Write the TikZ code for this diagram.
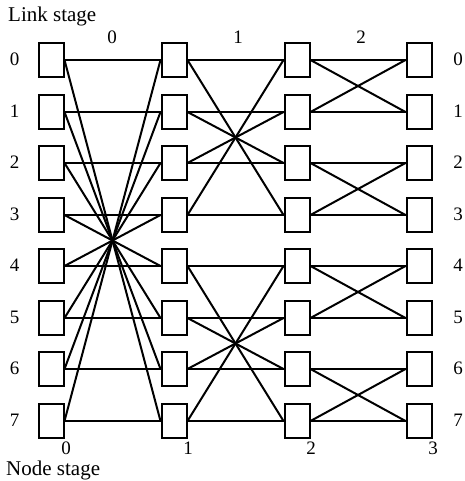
\documentclass[tikz,border=0pt]{standalone}
\usepackage{fontspec}
\setmainfont{Liberation Serif}
\begin{document}
\begin{tikzpicture}[x=1pt,y=-1pt,
  box/.style={draw,line width=2pt,minimum width=25pt,minimum height=34pt,inner sep=0pt},
  link/.style={line width=2pt},
  num/.style={font=\fontsize{19}{22}\selectfont,inner sep=0pt},
  lbl/.style={font=\fontsize{21}{24}\selectfont,inner sep=0pt}]
\useasboundingbox (0,0) rectangle (464,481);
% boxes
\foreach \c/\x in {0/51,1/174,2/297,3/419}{
  \foreach \r/\y in {0/60,1/112,2/163,3/215,4/266,5/318,6/369,7/421}{
    \node[box] (n\c\r) at (\x,\y) {};
  }
}
% stage 0 links: straight and reversal
\foreach \r in {0,...,7}{
  \pgfmathtruncatemacro\s{7-\r}
  \draw[link] (n0\r.east) -- (n1\r.west);
  \draw[link] (n0\r.east) -- (n1\s.west);
}
% stage 1 links: straight and reversal within groups of 4
\foreach \r in {0,...,7}{
  \pgfmathtruncatemacro\g{4*floor(\r/4)}
  \pgfmathtruncatemacro\s{2*\g+3-\r}
  \draw[link] (n1\r.east) -- (n2\r.west);
  \draw[link] (n1\r.east) -- (n2\s.west);
}
% stage 2 links: straight and swap within pairs
\foreach \r in {0,...,7}{
  \pgfmathtruncatemacro\s{\r+1-2*mod(\r,2)}
  \draw[link] (n2\r.east) -- (n3\r.west);
  \draw[link] (n2\r.east) -- (n3\s.west);
}
% row numbers
\foreach \r/\y in {0/60,1/112,2/163,3/215,4/266,5/318,6/369,7/421}{
  \node[num] (L\r) at (14.5,\y-1) {\r};
  \node[num] (R\r) at (458,\y-1) {\r};
}
% link stage numbers
\node[num] (ls0) at (112,37) {0};
\node[num] (ls1) at (238,37) {1};
\node[num] (ls2) at (361,37) {2};
% node stage numbers
\node[num] (ns0) at (66,448) {0};
\node[num] (ns1) at (188,448) {1};
\node[num] (ns2) at (311,448) {2};
\node[num] (ns3) at (433,448) {3};
% stage titles
\node[lbl,anchor=base west] (linkstage) at (8,22) {Link stage};
\node[lbl,anchor=base west] (nodestage) at (6,475) {Node stage};
\end{tikzpicture}
\end{document}
